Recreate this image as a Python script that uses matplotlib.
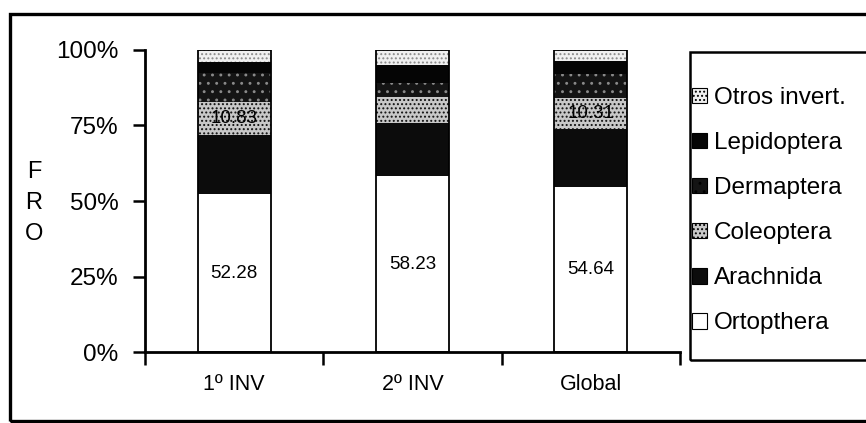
import matplotlib.pyplot as plt
from matplotlib.patches import Patch, Rectangle
import numpy as np

plt.rcParams['font.family'] = ['Liberation Sans', 'DejaVu Sans']
plt.rcParams['hatch.linewidth'] = 0.9

# Data (percent of each group)
groups = ["1º INV", "2º INV", "Global"]
ortopthera = [52.28, 58.23, 54.64]
arachnida = [19.7, 17.5, 19.2]
coleoptera = [10.83, 8.7, 10.31]
dermaptera = [9.6, 4.6, 8.0]
lepidoptera = [3.6, 6.0, 4.3]
otros = [4.0, 4.97, 3.55]

series = [
    ("Ortopthera", ortopthera, "white", "white", None),
    ("Arachnida", arachnida, "#0c0c0c", "#0c0c0c", None),
    ("Coleoptera", coleoptera, "#c8c8c8", "#111111", "...."),
    ("Dermaptera", dermaptera, "#141414", "#8a8a8a", ".."),
    ("Lepidoptera", lepidoptera, "#050505", "#050505", None),
    ("Otros invert.", otros, "#f0f0f0", "#8a8a8a", "...."),
]

fig = plt.figure(figsize=(8.66, 4.23), dpi=100)
ax = fig.add_axes([145/866, 1 - 352/423, (680 - 145)/866, (352 - 50)/423])

x = np.arange(len(groups))
width = 0.41
bottom = np.zeros(len(groups))
handles = []
for name, vals, face, hcol, hatch in series:
    ax.bar(x, vals, width, bottom=bottom, color=face, edgecolor=hcol,
           hatch=hatch, linewidth=0)
    handles.append(Patch(facecolor=face, edgecolor="black", hatch=hatch,
                         linewidth=0.8, label=name))
    bottom += np.array(vals)

# outline of each stacked column
ax.bar(x, bottom, width, fill=False, edgecolor="black", linewidth=1.3)

# value labels
for i, v in enumerate(ortopthera):
    ax.text(x[i], v / 2, "%.2f" % v, ha="center", va="center", fontsize=13.5)
for i in [0, 2]:
    y = ortopthera[i] + arachnida[i] + coleoptera[i] / 2
    ax.text(x[i], y, "%.2f" % coleoptera[i], ha="center", va="center",
            fontsize=13.5)

ax.set_xlim(-0.5, 2.5)
ax.set_ylim(0, 100)
ax.set_yticks([0, 25, 50, 75, 100])
ax.set_yticklabels(["0%", "25%", "50%", "75%", "100%"], fontsize=17.5)
ax.set_xticks(x)
ax.set_xticklabels(groups, fontsize=15.5)
ax.set_xticks([-0.5, 0.5, 1.5, 2.5], minor=True)
ax.tick_params(axis="x", which="major", length=0, pad=16)
ax.tick_params(axis="x", which="minor", length=9, width=1.8, direction="out")
ax.tick_params(axis="y", length=9, width=1.8, direction="out", pad=10)
for s in ["top", "right"]:
    ax.spines[s].set_visible(False)
for s in ["left", "bottom"]:
    ax.spines[s].set_linewidth(2)

# vertical axis title, one letter per line
for k, ch in enumerate("FRO"):
    fig.text(34/866, 1 - (172 + 31*k)/423, ch, ha="center", va="center",
             fontsize=17)

# legend box drawn separately, entries placed inside it
fig.patches.append(Rectangle((690/866, 1 - 360/423), 0.5, (360 - 52)/423,
                             fill=False, edgecolor="black", linewidth=1.8,
                             transform=fig.transFigure, figure=fig))
fig.legend(handles[::-1], [h.get_label() for h in handles[::-1]],
           loc="upper left", bbox_to_anchor=(692/866, 1 - 87/423),
           fontsize=17.5, labelspacing=0.95, handlelength=0.6,
           handleheight=0.6, handletextpad=0.3, borderpad=0,
           borderaxespad=0, frameon=False)

# outer frame around the whole chart
fig.patches.append(Rectangle((10/866, 2/423), 1.0, 407/423, fill=False,
                             edgecolor="black", linewidth=2.4,
                             transform=fig.transFigure, figure=fig))

fig.savefig("out.png", dpi=100)
